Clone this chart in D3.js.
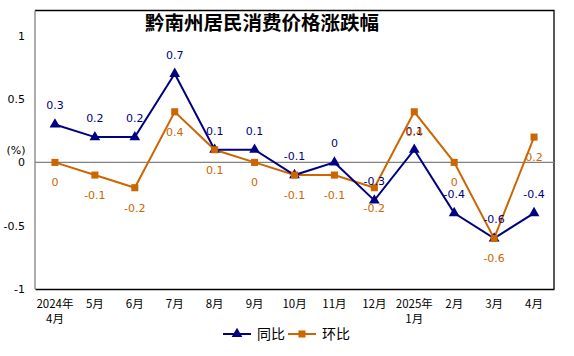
<!DOCTYPE html>
<html><head><meta charset="utf-8">
<script src="https://cdn.jsdelivr.net/npm/d3@7"></script>
<style>body{margin:0;background:#fff}svg{display:block}</style>
</head><body>
<svg id="c" width="574" height="356"></svg>
<script>
const categories = [["2024年","4月"],["5月"],["6月"],["7月"],["8月"],["9月"],["10月"],["11月"],["12月"],["2025年","1月"],["2月"],["3月"],["4月"]];
const yoy = [0.3, 0.2, 0.2, 0.7, 0.1, 0.1, -0.1, 0, -0.3, 0.1, -0.4, -0.6, -0.4];
const mom = [0, -0.1, -0.2, 0.4, 0.1, 0, -0.1, -0.1, -0.2, 0.4, 0, -0.6, 0.2];
const yTicks = [-1, -0.5, 0, 0.5, 1];
const seriesNames = ["同比", "环比"];
const colors = ["#000080", "#CC6600"];

const svg = d3.select("#c");
const L = 35, R = 554, T = 10.5, B = 289;
const x = d3.scaleBand().domain(d3.range(categories.length)).range([L, R]);
const y = d3.scaleLinear().domain([-1, 1.2]).range([B, T]);
const cx = i => x(i) + x.bandwidth() / 2;
const font = "'DejaVu Sans', sans-serif";
const cjk = "'Noto Sans CJK SC', sans-serif";

// frame
svg.append("path").attr("d", `M${L},${T}H${R}V${B}`).attr("fill","none").attr("stroke","#000").attr("stroke-width",1.3);
// y axis
const ya = svg.append("g").attr("transform", `translate(${L},0)`)
  .call(d3.axisLeft(y).tickValues(yTicks).tickSize(0).tickPadding(10).tickFormat(d => d));
ya.select(".domain").remove();
ya.selectAll("text").attr("font-family", font).attr("font-size", 11).attr("fill", "#000");
svg.append("line").attr("x1", L).attr("x2", L).attr("y1", T).attr("y2", B).attr("stroke", "#808080").attr("stroke-width", 1.3);
// zero line
svg.append("line").attr("x1", L).attr("x2", R).attr("y1", y(0)).attr("y2", y(0)).attr("stroke", "#808080").attr("stroke-width", 1.2);
// x axis
const xa = svg.append("g").attr("transform", `translate(0,${B})`)
  .call(d3.axisBottom(x).tickSize(0).tickFormat(() => ""));
xa.select(".domain").attr("stroke", "#000").attr("stroke-width", 1.3);
xa.selectAll(".tick").each(function(d) {
  const t = d3.select(this).append("text").attr("text-anchor", "middle")
    .attr("font-family", cjk).attr("font-size", 11.5).attr("fill", "#000");
  categories[d].forEach((s, k) => t.append("tspan").attr("x", 0).attr("y", 19 + k * 14.5).text(s));
});
// (%) label
svg.append("text").attr("x", 16).attr("y", 154).attr("text-anchor", "middle")
  .attr("font-family", font).attr("font-size", 11).text("(%)");

// title
svg.append("text").attr("x", 262).attr("y", 30).attr("text-anchor", "middle")
  .attr("font-family", cjk).attr("font-weight", "bold").attr("font-size", 19.5).attr("fill", "#000").text("黔南州居民消费价格涨跌幅");

const line = d3.line().x((d, i) => cx(i)).y(d => y(d));
const tri = d3.symbol().type(d3.symbolTriangle).size(50);
const sq = d3.symbol().type(d3.symbolSquare).size(50);

// mom series
svg.append("path").datum(mom).attr("d", line).attr("fill", "none").attr("stroke", colors[1]).attr("stroke-width", 2);
// yoy series
svg.append("path").datum(yoy).attr("d", line).attr("fill", "none").attr("stroke", colors[0]).attr("stroke-width", 2);
svg.selectAll(".m1").data(yoy).join("path").attr("d", tri)
  .attr("transform", (d, i) => `translate(${cx(i)},${y(d)})`).attr("fill", colors[0]);
svg.selectAll(".m2").data(mom).join("path").attr("d", sq)
  .attr("transform", (d, i) => `translate(${cx(i)},${y(d)})`).attr("fill", colors[1]);

// labels
svg.selectAll(".l1").data(yoy).join("text").attr("x", (d, i) => cx(i)).attr("y", d => y(d) - 15)
  .attr("text-anchor", "middle").attr("font-family", font).attr("font-size", 11).attr("fill", colors[0]).text(d => d);
svg.selectAll(".l2").data(mom).join("text").attr("x", (d, i) => cx(i)).attr("y", d => y(d) + 24)
  .attr("text-anchor", "middle").attr("font-family", font).attr("font-size", 11).attr("fill", colors[1]).text(d => d);

// legend
const lg = [{x: 223, s: tri}, {x: 288, s: sq}];
lg.forEach((l, k) => {
  const g = svg.append("g");
  g.append("line").attr("x1", l.x).attr("x2", l.x + 28).attr("y1", 334).attr("y2", 334).attr("stroke", colors[k]).attr("stroke-width", 2);
  g.append("path").attr("d", l.s).attr("transform", `translate(${l.x + 14},334)`).attr("fill", colors[k]);
  g.append("text").attr("x", l.x + 34).attr("y", 339).attr("font-family", cjk).attr("font-size", 14).attr("fill", "#000").text(seriesNames[k]);
});
</script>
</body></html>
